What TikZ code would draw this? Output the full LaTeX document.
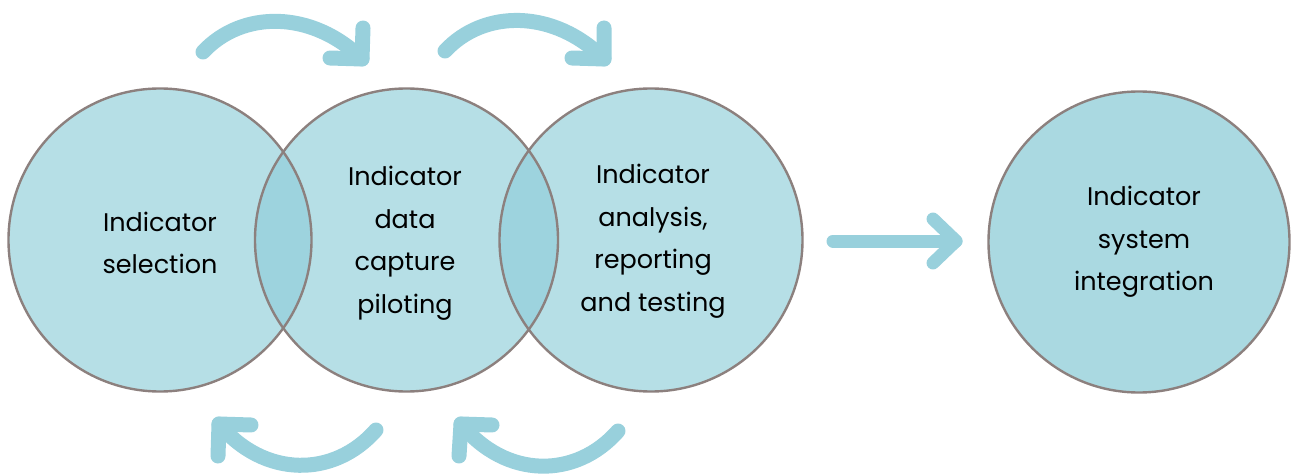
\documentclass[tikz,border=0pt]{standalone}
\usepackage{fontspec}
\setmainfont{Poppins}
\definecolor{stagefill}{HTML}{B6DFE6}
\definecolor{overlapfill}{HTML}{9DD3DE}
\definecolor{finalfill}{HTML}{AAD9E1}
\definecolor{ringgray}{HTML}{8C807E}
\definecolor{arrowblue}{HTML}{98D0DC}
\begin{document}
\begin{tikzpicture}[x=1pt,y=-1pt,
  stage/.style={circle, fill=stagefill, minimum size=303pt, inner sep=0pt},
  ring/.style={draw=ringgray, line width=2.4pt},
  caption/.style={align=center, text=black, font=\fontsize{25.5}{42.5}\selectfont},
  flow/.style={draw=arrowblue, line width=15pt, line cap=round, line join=round},
  lead/.style={draw=arrowblue, line width=13pt, line cap=round, line join=round},
]
\useasboundingbox (0,0) rectangle (1293,476);

% the four stages
\node[stage] (c1) at (160,240) {};
\node[stage] (c2) at (406.5,240) {};
\node[stage] (c3) at (651,240) {};
\node[stage, fill=finalfill, minimum size=301pt] (c4) at (1139,242) {};

% overlaps between neighbouring stages
\begin{scope}
  \clip (c1.center) circle (151.5);
  \fill[overlapfill] (c2.center) circle (151.5);
\end{scope}
\begin{scope}
  \clip (c2.center) circle (151.5);
  \fill[overlapfill] (c3.center) circle (151.5);
\end{scope}

% outlines
\draw[ring] (c1.center) circle (151.5);
\draw[ring] (c2.center) circle (151.5);
\draw[ring] (c3.center) circle (151.5);
\draw[ring] (c4.center) circle (150.5);

% labels
\node[caption] (t1) at (160,243) {Indicator\\selection};
\node[caption] (t2) at (405,243) {Indicator\\data\\capture\\piloting};
\node[caption] (t3) at (653,241) {Indicator\\analysis,\\reporting\\and testing};
\node[caption] (t4) at (1144,242) {Indicator\\system\\integration};

% forward loop arrows above
\coordinate (a1s) at (203,52);
\coordinate (a1e) at (362,59);
\coordinate (a1v) at (363,28);
\coordinate (a1h) at (330,58);
\draw[flow] (a1s) .. controls (242,10) and (312,10) .. (a1e);
\draw[flow] (a1v) -- (a1e) -- (a1h);

\coordinate (a2s) at (445,51);
\coordinate (a2e) at (604,59);
\coordinate (a2v) at (604,28);
\coordinate (a2h) at (572,58);
\draw[flow] (a2s) .. controls (484,9) and (554,9) .. (a2e);
\draw[flow] (a2v) -- (a2e) -- (a2h);

% backward loop arrows below
\coordinate (b1s) at (376,430);
\coordinate (b1e) at (219,424);
\coordinate (b1v) at (218,456);
\coordinate (b1h) at (251,425);
\draw[flow] (b1s) .. controls (334,478) and (264,478) .. (b1e);
\draw[flow] (b1v) -- (b1e) -- (b1h);

\coordinate (b2s) at (618,431);
\coordinate (b2e) at (461,424);
\coordinate (b2v) at (459,456);
\coordinate (b2h) at (492,425);
\draw[flow] (b2s) .. controls (576,479) and (506,479) .. (b2e);
\draw[flow] (b2v) -- (b2e) -- (b2h);

% lead into the final stage
\coordinate (ls) at (833,241);
\coordinate (le) at (956,241);
\coordinate (lu) at (933,219);
\coordinate (ld) at (933,263);
\draw[lead] (ls) -- (le);
\draw[lead] (lu) -- (le) -- (ld);
\end{tikzpicture}
\end{document}
